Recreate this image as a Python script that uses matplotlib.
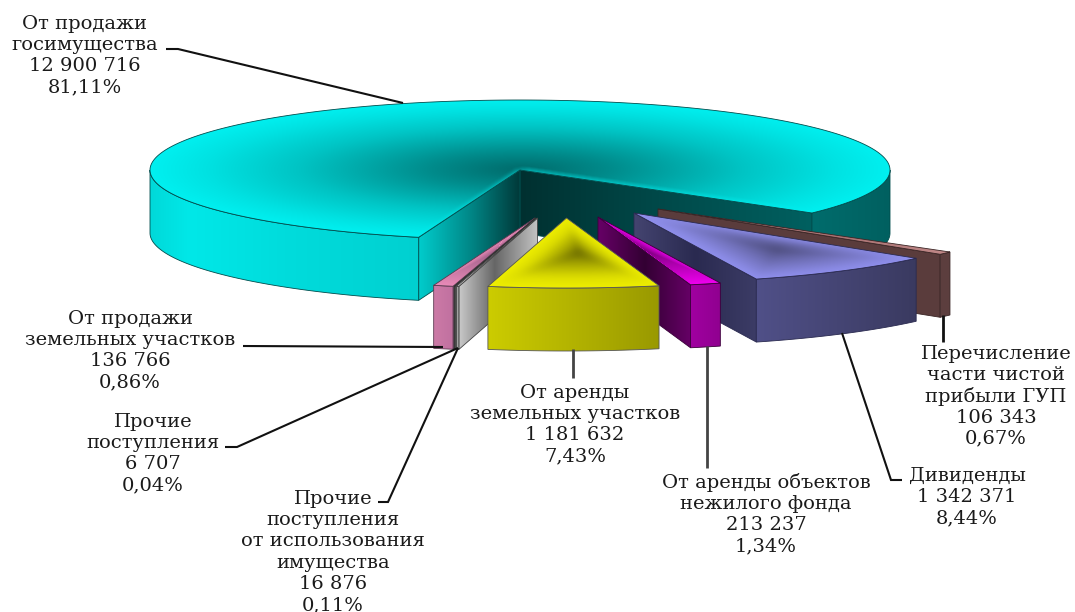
import numpy as np
import matplotlib
matplotlib.use("Agg")
import matplotlib.pyplot as plt
from matplotlib.colors import to_rgb
from matplotlib.patches import Polygon

# ---------- data ----------
names = ["От продажи\nгосимущества", "От продажи\nземельных участков", "Прочие\nпоступления",
         "Прочие\nпоступления\nот использования\nимущества", "От аренды\nземельных участков",
         "От аренды объектов\nнежилого фонда", "Дивиденды", "Перечисление\nчасти чистой\nприбыли ГУП"]
values = [12900716, 136766, 6707, 16876, 1181632, 213237, 1342371, 106343]
value_labels = ["12 900 716", "136 766", "6 707", "16 876", "1 181 632", "213 237", "1 342 371", "106 343"]
percent_labels = ["81,11%", "0,86%", "0,04%", "0,11%", "7,43%", "1,34%", "8,44%", "0,67%"]

# ---------- layout / style ----------
W, H = 1075, 612
CX, CY, RX, RY, DEPTH = 520.0, 170.0, 370.0, 70.0, 63.0
START = -37.9
explode_dx = [0, 15, 16, 17.5, 46.5, 78, 114, 138]
explode_dy = [0, 48, 48, 48, 48, 47, 43, 39]
draw_order = [0, 7, 6, 5, 1, 2, 3, 4]
edge_col = ["#004c4c", "#5a3a50", "#333333", "#444444", "#555555", "#3a003a", "#2a2a50", "#3a2525"]
top_centre = [(0, 0), (-40, 34), (-40, 34), (-40, 34), (12, 35), (47, 34), (144, 35), (140, 23)]
top_stops = [
    ([0, .25, .6, .85, 1], ["#006a6a", "#008c8c", "#00c4c4", "#00e2e2", "#00f0f0"]),
    ([0, 1], ["#a06088", "#e88ab8"]),
    ([0, 1], ["#555555", "#888888"]),
    ([0, 1], ["#909090", "#d0d0d0"]),
    ([0, .35, .7, 1], ["#6b6b00", "#aaaa00", "#dddd00", "#eeee00"]),
    ([0, 1], ["#800080", "#ee00ee"]),
    ([0, .5, 1], ["#4a4a78", "#7070b8", "#9090ee"]),
    ([0, 1], ["#a06a6a", "#c08888"]),
]
top_blur = [4, 0, 0, 0, 4, 0, 5, 0]
front_stops = [
    None,
    ([0, 1], ["#cc7aa6", "#c070a0"]),
    ([0, 1], ["#666666", "#666666"]),
    ([0, 1], ["#a8a8a8", "#909090"]),
    ([0, 1], ["#cccc00", "#999900"]),
    ([0, 1], ["#a000a0", "#900090"]),
    ([0, 1], ["#505088", "#3a3a60"]),
    ([0, 1], ["#5c3e3e", "#5c3e3e"]),
]
wall_stops_a0 = [
    ([0, .45, 1], ["#003030", "#004848", "#006060"]),
    None, None, None, None,
    ([0, .5, 1], ["#660066", "#330033", "#660066"]),
    ([0, .5, 1], ["#444470", "#2a2a50", "#3c3c66"]),
    ([0, 1], ["#5a3c3c", "#5a3c3c"]),
]
wall_stops_a1 = [
    ([0, .5, 1], ["#00cccc", "#008888", "#003838"]),
    ([0, 1], ["#b06a94", "#b06a94"]),
    ([0, 1], ["#777777", "#777777"]),
    ([0, .45, 1], ["#c8c8c8", "#666666", "#c4c4c4"]),
    None, None, None, None,
]

# leader line paths (pixels)
leaders = [
    ([166, 178, 403], [49, 49, 103], "#111111", 1.5),
    ([243, 443], [346, 347], "#111111", 1.5),
    ([225, 237, 458], [447, 447, 348], "#111111", 1.5),
    ([378, 388, 458], [502, 502, 348], "#111111", 1.5),
    ([573, 573], [349, 378], "#444444", 2.0),
    ([707, 707], [346, 468], "#444444", 2.0),
    ([842, 891, 902], [333, 480, 480], "#111111", 1.5),
    ([943, 943], [315, 342], "#111111", 2.0),
]
# label centre x, first-line centre y
label_x = [85, 130, 153, 333, 575, 766, 967, 996]
label_y = [24, 319, 422, 499, 393, 483, 476, 354]
LINE = 21.2

plt.rcParams["font.family"] = ["DejaVu Serif"]
fig = plt.figure(figsize=(W / 100, H / 100), dpi=100)
ax = fig.add_axes([0, 0, 1, 1])
ax.set_axis_off()


def ramp(t, stops):
    pos, cols = stops
    rgb = np.array([to_rgb(c) for c in cols])
    return np.stack([np.interp(t, pos, rgb[:, i]) for i in range(3)], axis=-1)


def arc(cx, cy, a0, a1, n=120):
    a = np.radians(np.linspace(a0, a1, n))
    return np.c_[cx + RX * np.cos(a), cy - RY * np.sin(a)]


def smooth(img, r):
    if r <= 0:
        return img
    k = np.ones(2 * r + 1) / (2 * r + 1)
    for axis in (0, 1):
        pad = [(r, r) if a == axis else (0, 0) for a in range(3)]
        p = np.pad(img, pad, mode="edge")
        img = np.apply_along_axis(lambda v: np.convolve(v, k, mode="valid"), axis, p)
    return img


def paint(poly, rgb_fn, z, edge, blur=0):
    x0, y0 = np.floor(poly.min(axis=0)) - 1
    x1, y1 = np.ceil(poly.max(axis=0)) + 1
    xs = np.arange(x0, x1 + 1)
    ys = np.arange(y0, y1 + 1)
    gx, gy = np.meshgrid(xs, ys)
    im = ax.imshow(smooth(rgb_fn(gx, gy), blur), extent=(x0 - .5, x1 + .5, y1 + .5, y0 - .5),
                   aspect="auto", interpolation="bilinear", zorder=z)
    im.set_clip_path(Polygon(poly, closed=True, transform=ax.transData))
    ax.add_patch(Polygon(poly, closed=True, fill=False, edgecolor=edge, lw=0.6, zorder=z + .1))


def linear(xa, xb, stops):
    def fn(gx, gy):
        return ramp(np.clip((gx - xa) / max(xb - xa, 1e-6), 0, 1), stops)
    return fn


def path_grad(poly, c, stops):
    closed = np.r_[poly, poly[:1]]
    dense = []
    for p, q in zip(closed[:-1], closed[1:]):
        dense.append(p + (q - p) * np.linspace(0, 1, 40, endpoint=False)[:, None])
    dense = np.concatenate(dense)
    d = np.hypot(dense[:, 1] - c[1], dense[:, 0] - c[0])
    keep = d > 1.0
    ang = np.arctan2(dense[keep, 1] - c[1], dense[keep, 0] - c[0])
    rad = d[keep]
    o = np.argsort(ang)

    def fn(gx, gy):
        ga = np.arctan2(gy - c[1], gx - c[0])
        gr = np.hypot(gy - c[1], gx - c[0])
        b = np.interp(ga, ang[o], rad[o], period=2 * np.pi)
        return ramp(np.clip(gr / np.maximum(b, 1e-3), 0, 1), stops)
    return fn


edges = START + np.r_[0, np.cumsum(values)] / np.sum(values) * 360.0

for z, i in enumerate(draw_order):
    z = 2 + z
    cx, cy = CX + explode_dx[i], CY + explode_dy[i]
    a0, a1 = edges[i], edges[i + 1]
    ec = edge_col[i]
    apex = np.array([cx, cy])
    if np.cos(np.radians(a0)) > 0 and wall_stops_a0[i]:
        e = arc(cx, cy, a0, a0, 1)[0]
        w = np.array([apex, e, e + [0, DEPTH], apex + [0, DEPTH]])
        paint(w, linear(w[:, 0].min(), w[:, 0].max(), wall_stops_a0[i]), z, ec)
    if np.cos(np.radians(a1)) < 0 and wall_stops_a1[i]:
        e = arc(cx, cy, a1, a1, 1)[0]
        w = np.array([apex, e, e + [0, DEPTH], apex + [0, DEPTH]])
        paint(w, linear(w[:, 0].min(), w[:, 0].max(), wall_stops_a1[i]), z, ec)
    if i == 0:
        t = arc(cx, cy, 180, a1)
        w = np.r_[t, (t + [0, DEPTH])[::-1]]
        paint(w, linear(148, 420, ([0, .15, .5, 1], ["#00d8d8", "#00e8e8", "#00dcdc", "#00d0d0"])), z + .2, ec)
        t = arc(cx, cy, a0 + 360, 360)
        w = np.r_[t, (t + [0, DEPTH])[::-1]]
        paint(w, linear(812, 890, ([0, 1], ["#006c6c", "#006060"])), z + .2, ec)
    else:
        t = arc(cx, cy, a0, a1, 40)
        w = np.r_[t, (t + [0, DEPTH])[::-1]]
        paint(w, linear(t[:, 0].min(), t[:, 0].max(), front_stops[i]), z + .2, ec)
    poly = np.r_[apex[None], arc(cx, cy, a0, a1, 300)]
    c = (cx + top_centre[i][0], cy + top_centre[i][1])
    paint(poly, path_grad(poly, c, top_stops[i]), z + .4, ec, blur=top_blur[i])

for xs, ys, col, lw in leaders:
    ax.plot(xs, ys, color=col, lw=lw, zorder=30, solid_capstyle="butt", solid_joinstyle="miter")

for i in range(len(values)):
    lines = names[i].split("\n") + [value_labels[i], percent_labels[i]]
    for k, s in enumerate(lines):
        ax.text(label_x[i], label_y[i] + k * LINE, s, ha="center", va="center",
                fontsize=14, color="#1a1a1a", zorder=40)

ax.set_xlim(0, W)
ax.set_ylim(H, 0)
fig.savefig("out.png", dpi=100, facecolor="white")
